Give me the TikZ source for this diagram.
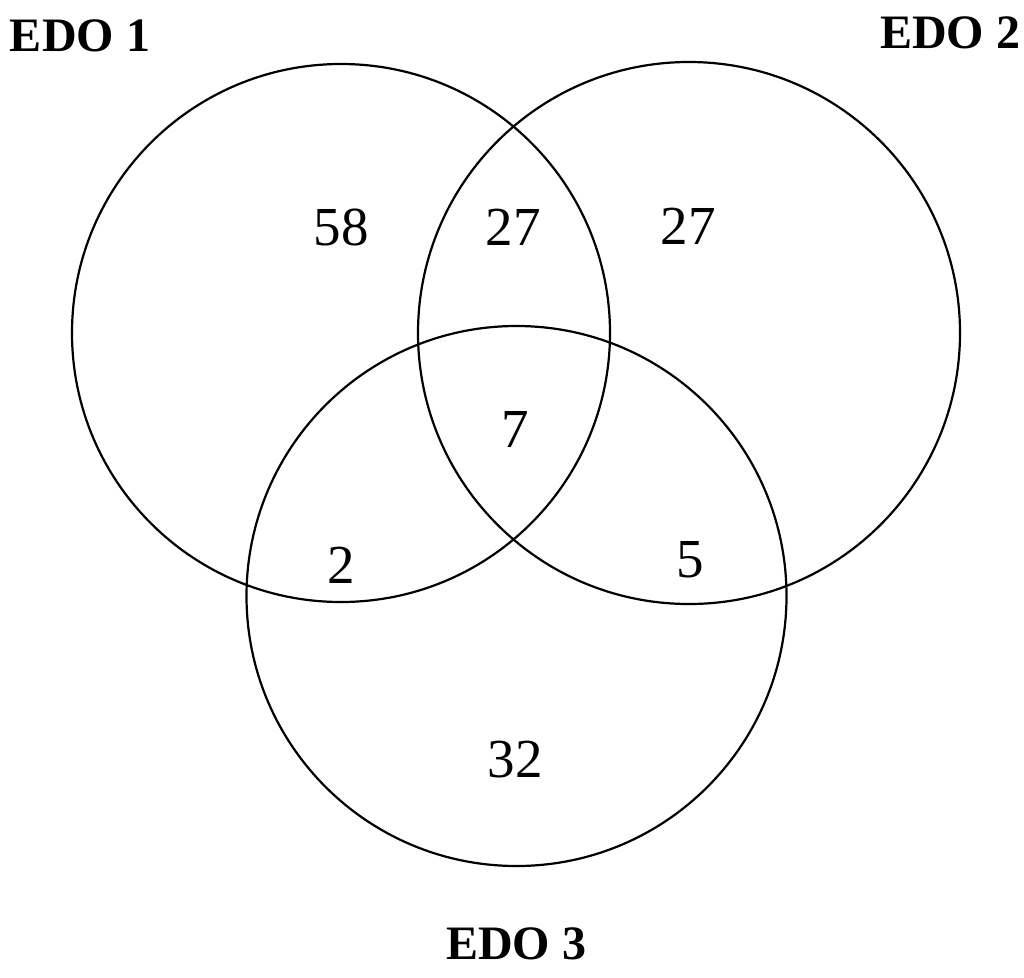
\documentclass[tikz,border=0pt]{standalone}
\usepackage{fontspec}
\setmainfont{Liberation Serif}
\begin{document}
\begin{tikzpicture}[x=1pt,y=-1pt,
  venn/.style={draw=black,line width=2.2pt},
  num/.style={font=\fontsize{55}{60}\selectfont,inner sep=0pt,anchor=center},
  lab/.style={font=\fontsize{48}{52}\selectfont\bfseries,inner sep=0pt,anchor=center}]
\useasboundingbox (0,0) rectangle (1024,977);
\draw[venn] (341,333) circle (269);
\draw[venn] (689,333) circle (271);
\draw[venn] (516.5,596) circle (270);
\node[lab] (e1) at (80,36) {EDO 1};
\node[lab] (e2) at (950,33) {EDO 2};
\node[lab] (e3) at (516,944) {EDO 3};
\node[num] (a) at (341,227) {58};
\node[num] (ab) at (513,227) {27};
\node[num] (b) at (688,226) {27};
\node[num] (abc) at (515,429) {7};
\node[num] (ac) at (341,565) {2};
\node[num] (bc) at (690,560) {5};
\node[num] (c) at (515,760) {32};
\end{tikzpicture}
\end{document}
